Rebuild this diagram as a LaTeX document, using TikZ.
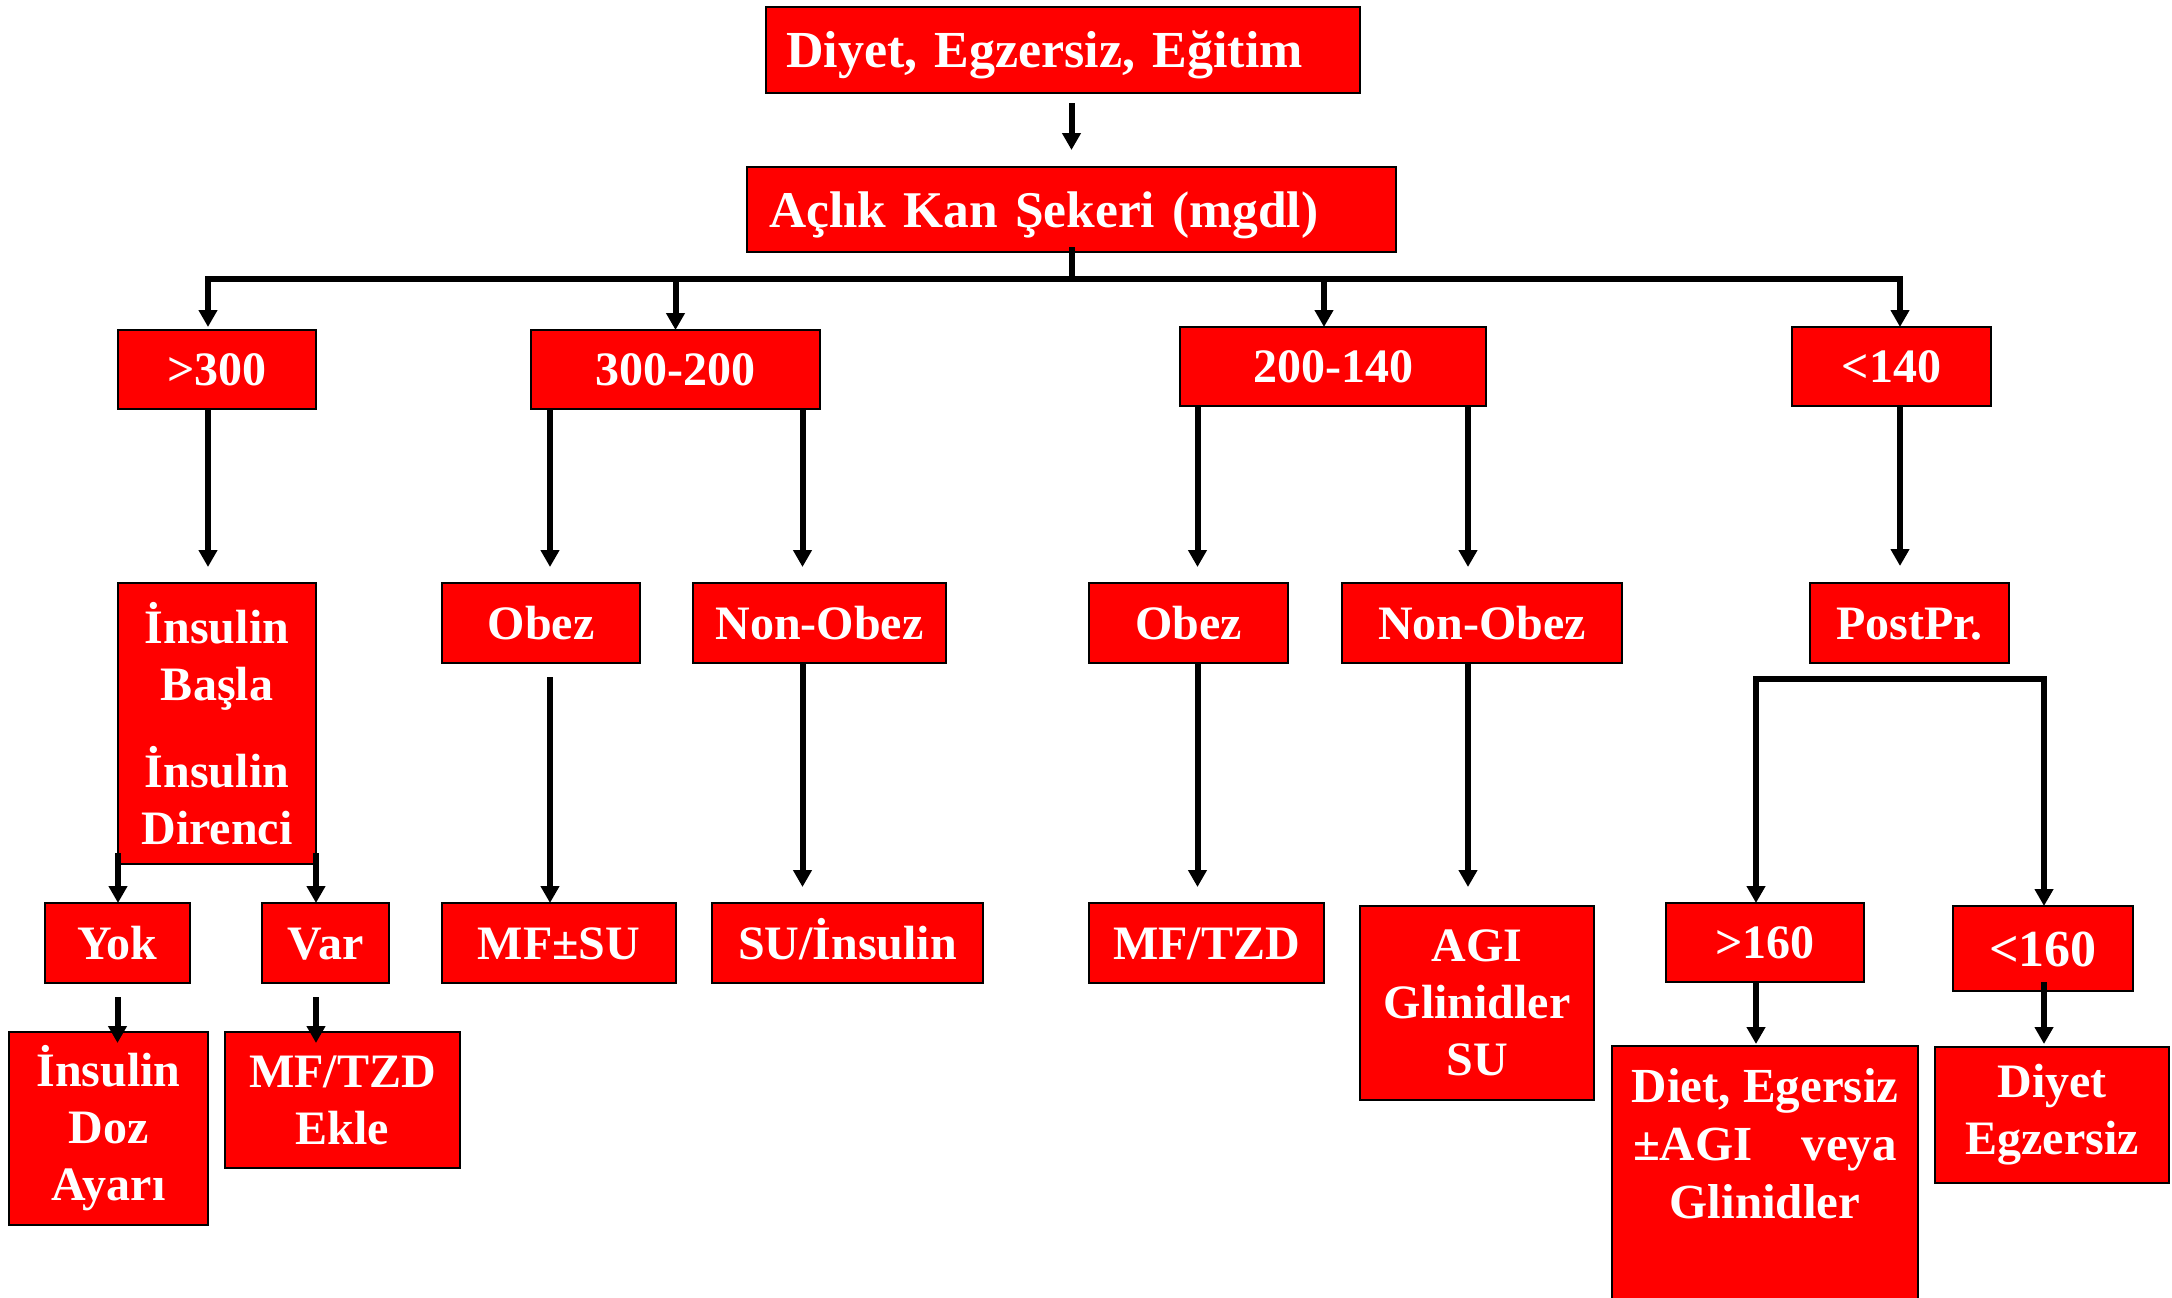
\documentclass[tikz,border=0pt]{standalone}
\usepackage{fontspec}
\setmainfont{Liberation Serif}
\usetikzlibrary{arrows.meta,calc}
\begin{document}
\begin{tikzpicture}[x=1pt,y=-1pt,
  box/.style={draw=black, fill=red, line width=2.8pt, text=white, inner sep=0pt, outer sep=0pt,
              anchor=north west, font=\bfseries\fontsize{48}{57}\selectfont},
  sbox/.style={box, text height=32pt, text depth=0pt},
  mbox/.style={box, align=center},
  bigfont/.style={font=\bfseries\fontsize{52}{60}\selectfont, text height=35pt},
  ln/.style={line width=6pt},
  arr/.style={line width=6pt, -{Triangle[width=18pt,length=17pt]}},
]
\useasboundingbox (0,0) rectangle (2172,1298);

% top
\node[sbox, bigfont, minimum width=594pt, minimum height=86pt, text width=554pt, inner xsep=20pt, align=left] (top) at (766,7) {Diyet, Egzersiz, Eğitim};
\node[sbox, bigfont, font=\bfseries\fontsize{51.5}{60}\selectfont, minimum width=649pt, minimum height=85pt, text width=605pt, inner xsep=22pt, align=left] (acks) at (747,167) {Açlık Kan Şekeri (mgdl)};

% level 1
\node[sbox, minimum width=198pt, minimum height=79pt] (gt300) at (118,330) {>300};
\node[sbox, minimum width=289pt, minimum height=79pt] (r300) at (531,330) {300-200};
\node[sbox, minimum width=306pt, minimum height=79pt] (r200) at (1180,327) {200-140};
\node[sbox, minimum width=199pt, minimum height=79pt] (lt140) at (1792,327) {<140};

% level 2
\node[mbox, minimum width=198pt, minimum height=281pt, text width=190pt] (ins) at (118,583) {İnsulin\\Başla\\[30pt]İnsulin\\Direnci};
\node[sbox, minimum width=198pt, minimum height=80pt] (obez1) at (442,583) {Obez};
\node[sbox, minimum width=253pt, minimum height=80pt] (nonobez1) at (693,583) {Non-Obez};
\node[sbox, minimum width=199pt, minimum height=80pt] (obez2) at (1089,583) {Obez};
\node[sbox, minimum width=280pt, minimum height=80pt] (nonobez2) at (1342,583) {Non-Obez};
\node[sbox, minimum width=199pt, minimum height=80pt] (postpr) at (1810,583) {PostPr.};

% level 3
\node[sbox, minimum width=145pt, minimum height=80pt] (yok) at (45,903) {Yok};
\node[sbox, minimum width=127pt, minimum height=80pt] (var) at (262,903) {Var};
\node[sbox, minimum width=234pt, minimum height=80pt] (mfsu) at (442,903) {MF±SU};
\node[sbox, minimum width=271pt, minimum height=80pt] (suins) at (712,903) {SU/İnsulin};
\node[sbox, minimum width=235pt, minimum height=80pt] (mftzd) at (1089,903) {MF/TZD};
\node[mbox, minimum width=234pt, minimum height=194pt, text width=226pt] (agi) at (1360,906) {AGI\\Glinidler\\SU};
\node[sbox, minimum width=198pt, minimum height=79pt] (gt160) at (1666,903) {>160};
\node[sbox, bigfont, minimum width=180pt, minimum height=85pt] (lt160) at (1953,906) {<160};

% level 4
\node[mbox, minimum width=199pt, minimum height=193pt, text width=190pt] (dozayar) at (9,1032) {İnsulin\\Doz\\Ayarı};
\node[mbox, minimum width=235pt, minimum height=136pt, text width=226pt] (ekle) at (225,1032) {MF/TZD\\Ekle};
\node[box, minimum width=306pt, minimum height=290pt] (diet) at (1612,1046) {};
\node[font=\bfseries\fontsize{49}{58}\selectfont, text=white, align=center, inner sep=0pt, anchor=north] (diettxt) at ($(diet.north)+(0,22)$) {Diet, Egersiz\\\makebox[264pt]{±AGI\hfill veya}\\Glinidler};
\node[mbox, minimum width=234pt, minimum height=136pt, text width=226pt] (diyet) at (1935,1047) {Diyet\\Egzersiz};

% connectors: top
\draw[arr] ($(top.south -| acks.north)+(0,10)$) -- ($(acks.north)+(0,-17)$);
\coordinate (busL) at (208,279);
\coordinate (busR) at (1900,279);
\draw[ln] ($(acks.south)+(0,-5)$) -- (acks.south |- busL);
\draw[ln, line cap=rect] (busL) -- (busR);
\draw[arr] (busL) -- ($(busL |- gt300.north)+(0,-3)$);
\draw[arr] (r300.north |- busL) -- (r300.north);
\draw[arr] ($(r200.north |- busL)+(-9,0)$) -- ($(r200.north)+(-9,0)$);
\draw[arr] (busR) -- (busR |- lt140.north);

% level 1 -> 2
\draw[arr] (busL |- gt300.south) -- ($(busL |- ins.north)+(0,-16)$);
\draw[arr] ($(obez1.north |- r300.south)+(9,0)$) -- ($(obez1.north)+(9,-16)$);
\draw[arr] ($(nonobez1.north |- r300.south)+(-17,0)$) -- ($(nonobez1.north)+(-17,-16)$);
\draw[arr] ($(obez2.north |- r200.south)+(9,0)$) -- ($(obez2.north)+(9,-16)$);
\draw[arr] ($(nonobez2.north |- r200.south)+(-14,0)$) -- ($(nonobez2.north)+(-14,-16)$);
\draw[arr] (busR |- lt140.south) -- ($(busR |- postpr.north)+(0,-17)$);

% level 2 -> 3
\draw[arr] ($(ins.south west)+(0,-11)$) -- (ins.south west |- yok.north);
\draw[arr] ($(ins.south east)+(0,-11)$) -- (ins.south east |- var.north);
\draw[arr] ($(obez1.south)+(9,14)$) -- ($(obez1.south |- mfsu.north)+(9,0)$);
\draw[arr] ($(nonobez1.south)+(-17,0)$) -- ($(nonobez1.south |- suins.north)+(-17,-16)$);
\draw[arr] ($(obez2.south)+(9,0)$) -- ($(obez2.south |- mftzd.north)+(9,-16)$);
\draw[arr] ($(nonobez2.south)+(-14,0)$) -- ($(nonobez2.south |- agi.north)+(-14,-19)$);

\coordinate (brL) at (1756,679);
\coordinate (brR) at (2044,679);
\draw[ln, line cap=rect] (brL) -- (brR);
\draw[arr] (brL) -- (brL |- gt160.north);
\draw[arr] (brR) -- (brR |- lt160.north);

% level 3 -> 4
\draw[arr] ($(yok.south)+(0,14)$) -- ($(yok.south |- dozayar.north)+(0,11)$);
\draw[arr] ($(ins.south east |- var.south)+(0,14)$) -- ($(ins.south east |- ekle.north)+(0,11)$);
\draw[arr] (brL |- gt160.south) -- ($(brL |- diet.north)+(0,-2)$);
\draw[arr] ($(brR |- lt160.south)+(0,-9)$) -- ($(brR |- diyet.north)+(0,-3)$);
\end{tikzpicture}
\end{document}
